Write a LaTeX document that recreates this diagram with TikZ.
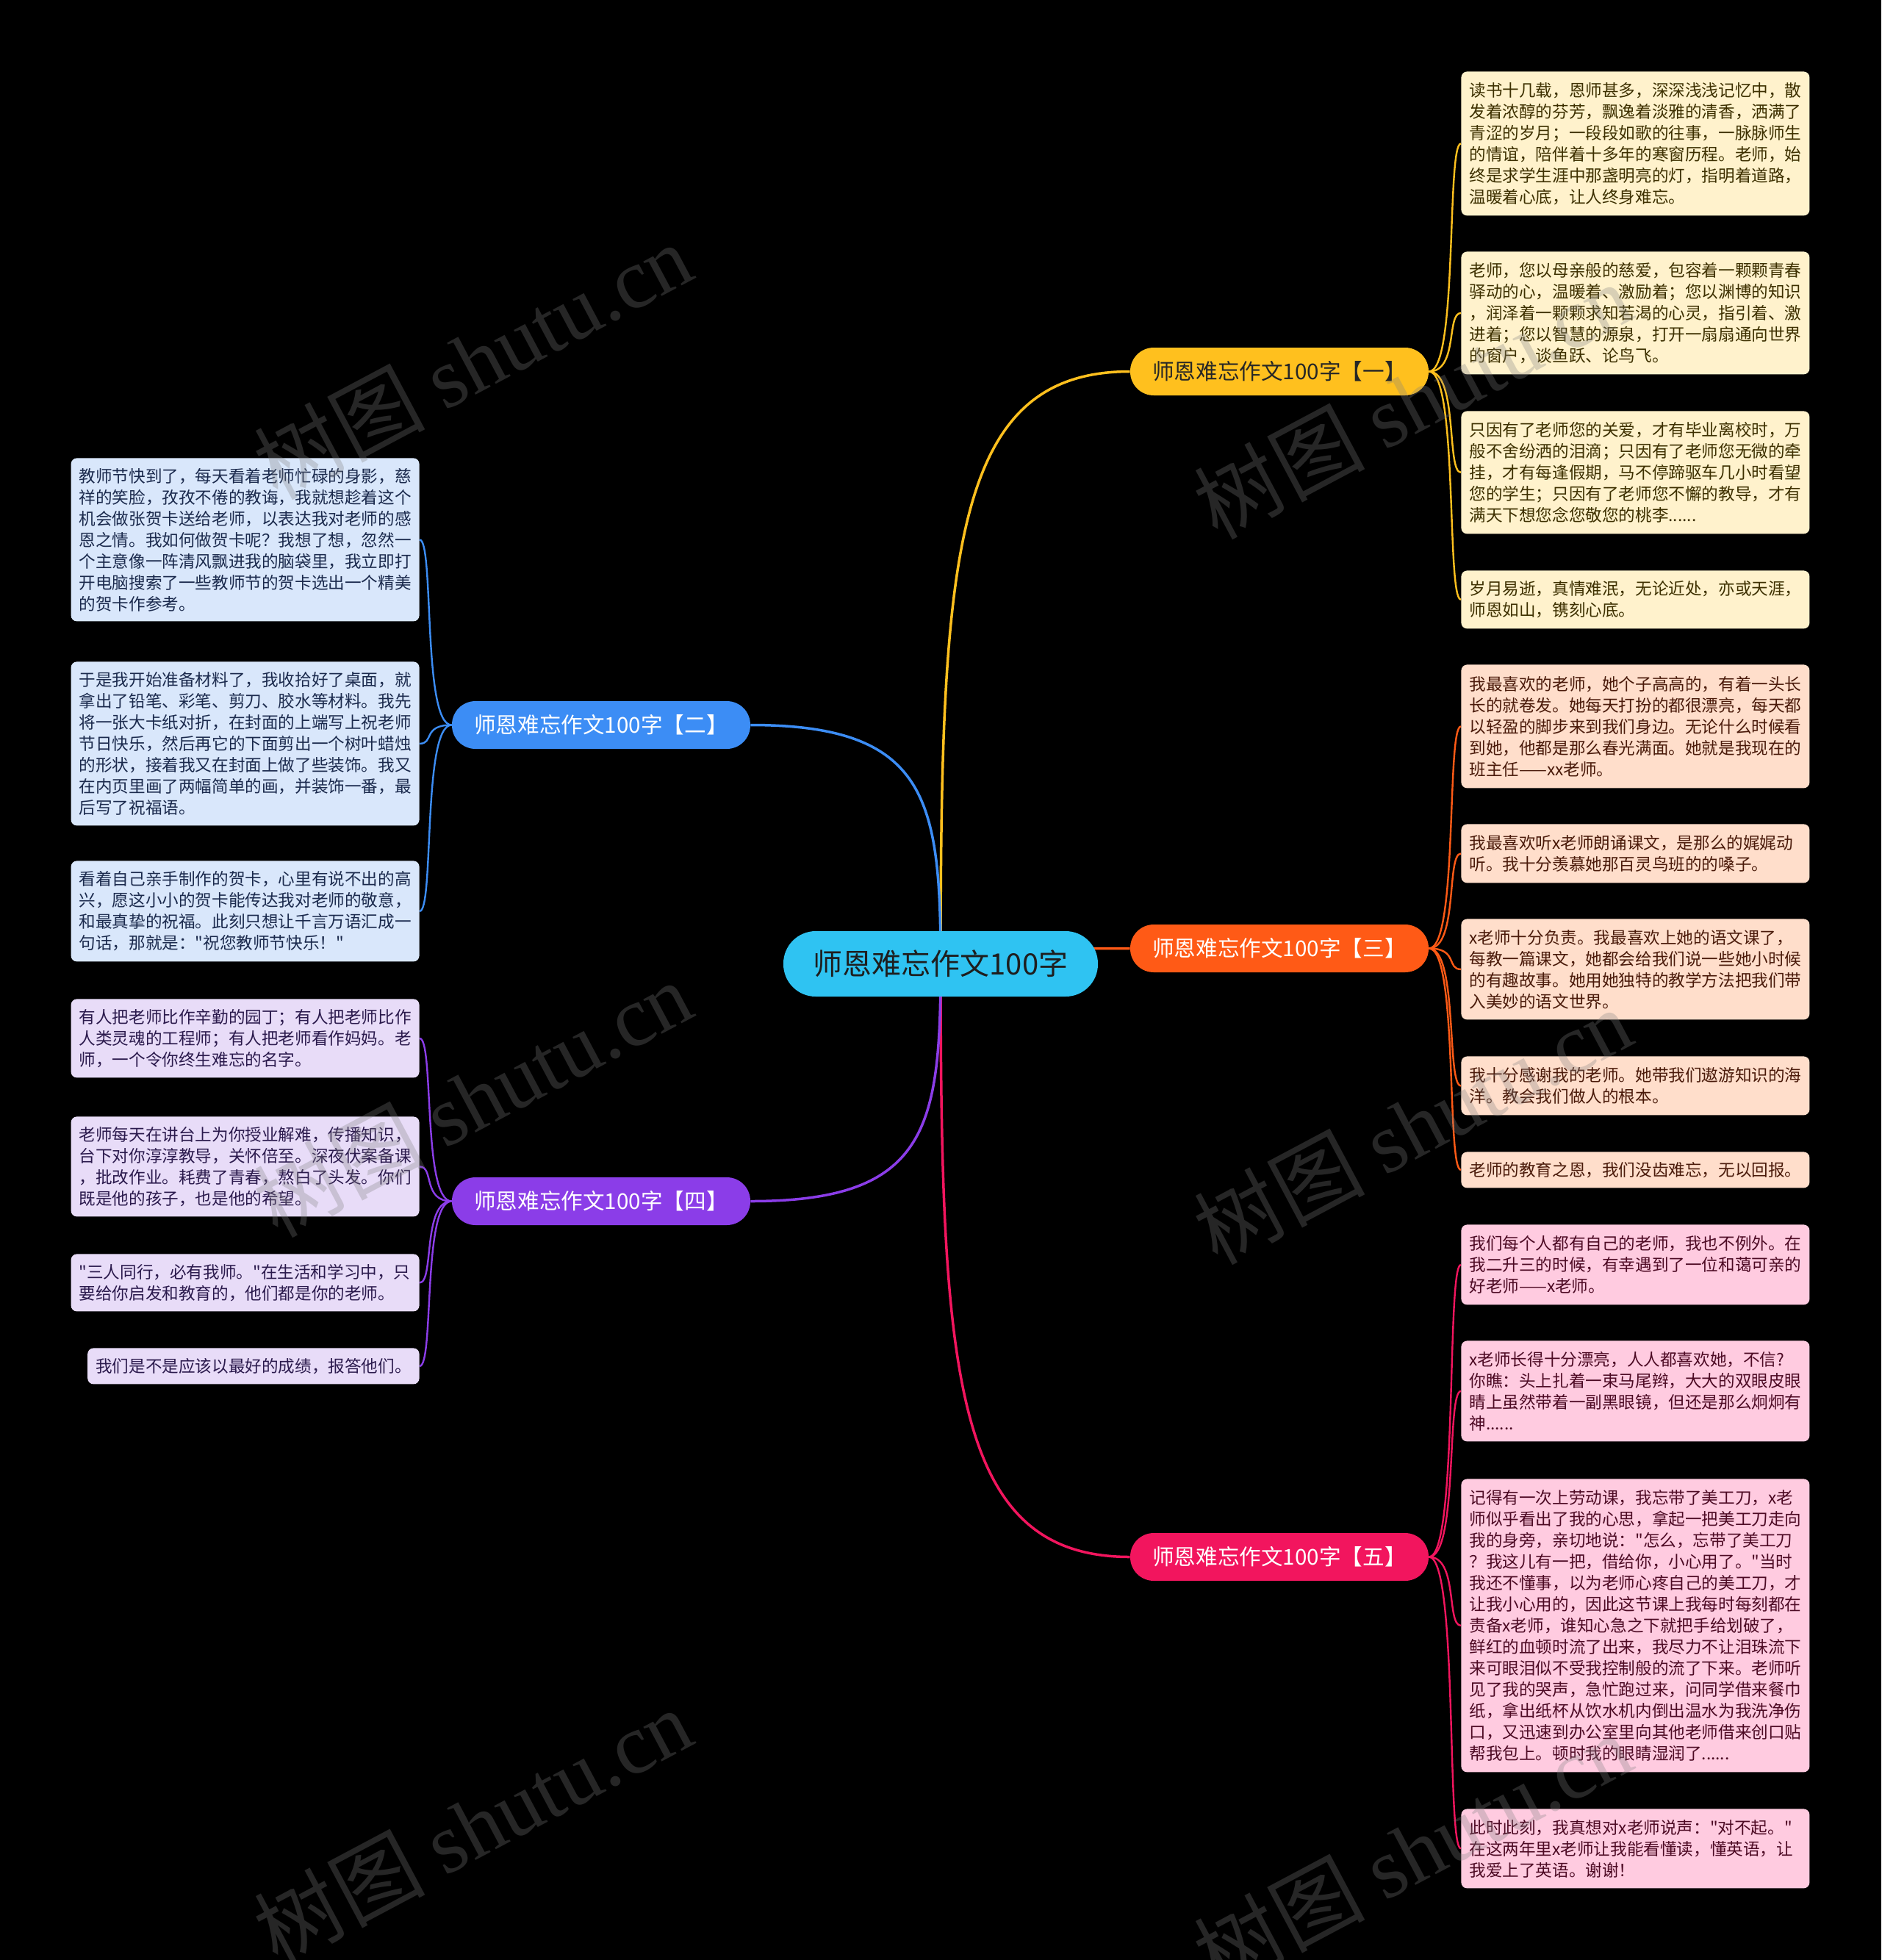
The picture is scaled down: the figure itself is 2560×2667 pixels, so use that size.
\documentclass[tikz,border=0pt]{standalone}
\usepackage{fontspec}
\setmainfont{Noto Sans CJK SC}[Ligatures=TeXOff]
\newfontfamily\wmlatin{Liberation Serif}
\pgfdeclarelayer{bgfill}
\pgfdeclarelayer{lines}
\pgfdeclarelayer{wmark}
\pgfsetlayers{bgfill,lines,main,wmark}
\definecolor{rootfill}{HTML}{2FC3F2}
\definecolor{rootText}{HTML}{1E1E1E}
\definecolor{yA}{HTML}{FFC01E}
\definecolor{yLeaf}{HTML}{FFF2CC}
\definecolor{yText}{HTML}{3D3000}
\definecolor{oA}{HTML}{FF5A16}
\definecolor{oLeaf}{HTML}{FFDECB}
\definecolor{oText}{HTML}{4A1A0A}
\definecolor{pA}{HTML}{F2155E}
\definecolor{pLeaf}{HTML}{FFCBE0}
\definecolor{pText}{HTML}{4D0A24}
\definecolor{bA}{HTML}{3C8DF5}
\definecolor{bLeaf}{HTML}{D9E7FB}
\definecolor{bText}{HTML}{1B2A4D}
\definecolor{vA}{HTML}{8B3DE8}
\definecolor{vLeaf}{HTML}{E8DCF8}
\definecolor{vText}{HTML}{2B1A4D}
\begin{document}
\begin{tikzpicture}[x=0.5pt,y=-0.5pt,
  rootnode/.style={fill=rootfill, text=rootText, rounded corners=22pt, minimum width=214pt, minimum height=44.5pt, inner sep=0pt, font=\fontsize{20}{22}\selectfont},
  branch/.style={rounded corners=16pt, minimum width=203pt, minimum height=32.5pt, inner sep=0pt, font=\fontsize{14.8}{16}\selectfont},
  leaf/.style={rounded corners=4pt, inner xsep=5.5pt, inner ysep=0pt, text width=226pt, align=left, font=\fontsize{11.3}{14.5}\selectfont},
  leafY/.style={leaf, fill=yLeaf, text=yText, anchor=north west},
  leafO/.style={leaf, fill=oLeaf, text=oText, anchor=north west},
  leafP/.style={leaf, fill=pLeaf, text=pText, anchor=north west},
  leafB/.style={leaf, fill=bLeaf, text=bText, anchor=north east},
  leafV/.style={leaf, fill=vLeaf, text=vText, anchor=north east},
  mainlink/.style={line width=1.75pt},
  leaflink/.style={line width=1.2pt},
  wm/.style={text=gray, text opacity=0.3, rotate=28, font=\fontsize{58}{60}\selectfont}
]
\begin{pgfonlayer}{bgfill}
\fill[black] (0,0) rectangle (2560,2667);
\end{pgfonlayer}
\useasboundingbox (0,0) rectangle (2560,2667);

% root and branches
\node[rootnode] (root) at (1280,1311.5) {师恩难忘作文100字};
\node[branch, fill=yA, text=black!85] (b1) at (1741,505.5) {师恩难忘作文100字【一】};
\node[branch, fill=oA, text=white] (b3) at (1741,1290.5) {师恩难忘作文100字【三】};
\node[branch, fill=pA, text=white] (b5) at (1741,2118.5) {师恩难忘作文100字【五】};
\node[branch, fill=bA, text=white] (b2) at (818,986.5) {师恩难忘作文100字【二】};
\node[branch, fill=vA, text=white] (b4) at (818,1634.5) {师恩难忘作文100字【四】};

% leaves of branch 1
\node[leafY, minimum height=98pt] (l11) at (1988,97) {读书十几载，恩师甚多，深深浅浅记忆中，散\\发着浓醇的芬芳，飘逸着淡雅的清香，洒满了\\青涩的岁月；一段段如歌的往事，一脉脉师生\\的情谊，陪伴着十多年的寒窗历程。老师，始\\终是求学生涯中那盏明亮的灯，指明着道路，\\温暖着心底，让人终身难忘。};
\node[leafY, minimum height=83.5pt] (l12) at (1988,342) {老师，您以母亲般的慈爱，包容着一颗颗青春\\驿动的心，温暖着、激励着；您以渊博的知识\\，润泽着一颗颗求知若渴的心灵，指引着、激\\进着；您以智慧的源泉，打开一扇扇通向世界\\的窗户，谈鱼跃、论鸟飞。};
\node[leafY, minimum height=83.5pt] (l13) at (1988,559) {只因有了老师您的关爱，才有毕业离校时，万\\般不舍纷洒的泪滴；只因有了老师您无微的牵\\挂，才有每逢假期，马不停蹄驱车几小时看望\\您的学生；只因有了老师您不懈的教导，才有\\满天下想您念您敬您的桃李......};
\node[leafY, minimum height=39.5pt] (l14) at (1988,776) {岁月易逝，真情难泯，无论近处，亦或天涯，\\师恩如山，镌刻心底。};

% leaves of branch 3
\node[leafO, minimum height=84pt] (l31) at (1988,904) {我最喜欢的老师，她个子高高的，有着一头长\\长的就卷发。她每天打扮的都很漂亮，每天都\\以轻盈的脚步来到我们身边。无论什么时候看\\到她，他都是那么春光满面。她就是我现在的\\班主任——xx老师。};
\node[leafO, minimum height=40pt] (l32) at (1988,1121) {我最喜欢听x老师朗诵课文，是那么的娓娓动\\听。我十分羡慕她那百灵鸟班的的嗓子。};
\node[leafO, minimum height=68.5pt] (l33) at (1988,1250) {x老师十分负责。我最喜欢上她的语文课了，\\每教一篇课文，她都会给我们说一些她小时候\\的有趣故事。她用她独特的教学方法把我们带\\入美妙的语文世界。};
\node[leafO, minimum height=40pt] (l34) at (1988,1437) {我十分感谢我的老师。她带我们遨游知识的海\\洋。教会我们做人的根本。};
\node[leafO, minimum height=24.5pt] (l35) at (1988,1567) {老师的教育之恩，我们没齿难忘，无以回报。};

% leaves of branch 5
\node[leafP, minimum height=54.5pt] (l51) at (1988,1666) {我们每个人都有自己的老师，我也不例外。在\\我二升三的时候，有幸遇到了一位和蔼可亲的\\好老师——x老师。};
\node[leafP, minimum height=68.5pt] (l52) at (1988,1824) {x老师长得十分漂亮，人人都喜欢她，不信?\\你瞧：头上扎着一束马尾辫，大大的双眼皮眼\\睛上虽然带着一副黑眼镜，但还是那么炯炯有\\神......};
\node[leafP, minimum height=199.5pt] (l53) at (1988,2012) {记得有一次上劳动课，我忘带了美工刀，x老\\师似乎看出了我的心思，拿起一把美工刀走向\\我的身旁，亲切地说："怎么，忘带了美工刀\\？我这儿有一把，借给你，小心用了。"当时\\我还不懂事，以为老师心疼自己的美工刀，才\\让我小心用的，因此这节课上我每时每刻都在\\责备x老师，谁知心急之下就把手给划破了，\\鲜红的血顿时流了出来，我尽力不让泪珠流下\\来可眼泪似不受我控制般的流了下来。老师听\\见了我的哭声，急忙跑过来，问同学借来餐巾\\纸，拿出纸杯从饮水机内倒出温水为我洗净伤\\口，又迅速到办公室里向其他老师借来创口贴\\帮我包上。顿时我的眼睛湿润了......};
\node[leafP, minimum height=54pt] (l54) at (1988,2461) {此时此刻，我真想对x老师说声："对不起。"\\在这两年里x老师让我能看懂读，懂英语，让\\我爱上了英语。谢谢！};

% leaves of branch 2
\node[leafB, minimum height=111pt] (l21) at (571,623) {教师节快到了，每天看着老师忙碌的身影，慈\\祥的笑脸，孜孜不倦的教诲，我就想趁着这个\\机会做张贺卡送给老师，以表达我对老师的感\\恩之情。我如何做贺卡呢？我想了想，忽然一\\个主意像一阵清风飘进我的脑袋里，我立即打\\开电脑搜索了一些教师节的贺卡选出一个精美\\的贺卡作参考。};
\node[leafB, minimum height=111.5pt] (l22) at (571,900) {于是我开始准备材料了，我收拾好了桌面，就\\拿出了铅笔、彩笔、剪刀、胶水等材料。我先\\将一张大卡纸对折，在封面的上端写上祝老师\\节日快乐，然后再它的下面剪出一个树叶蜡烛\\的形状，接着我又在封面上做了些装饰。我又\\在内页里画了两幅简单的画，并装饰一番，最\\后写了祝福语。};
\node[leafB, minimum height=68.5pt] (l23) at (571,1171) {看着自己亲手制作的贺卡，心里有说不出的高\\兴，愿这小小的贺卡能传达我对老师的敬意，\\和最真挚的祝福。此刻只想让千言万语汇成一\\句话，那就是："祝您教师节快乐！"};

% leaves of branch 4
\node[leafV, minimum height=53.5pt] (l41) at (571,1359) {有人把老师比作辛勤的园丁；有人把老师比作\\人类灵魂的工程师；有人把老师看作妈妈。老\\师，一个令你终生难忘的名字。};
\node[leafV, minimum height=68pt] (l42) at (571,1519) {老师每天在讲台上为你授业解难，传播知识，\\台下对你淳淳教导，关怀倍至。深夜伏案备课\\，批改作业。耗费了青春，熬白了头发。你们\\既是他的孩子，也是他的希望。};
\node[leafV, minimum height=39pt] (l43) at (571,1706) {"三人同行，必有我师。"在生活和学习中，只\\要给你启发和教育的，他们都是你的老师。};
\node[leafV, text width={}, minimum height=24.5pt] (l44) at (571,1834) {我们是不是应该以最好的成绩，报答他们。};

\begin{pgfonlayer}{lines}
\draw[mainlink, yA] (root.center) .. controls +(0,-560) and +(-240,0) .. (b1.west);
\draw[mainlink, oA] (root.center) .. controls +(0,-15) and +(-240,0) .. (b3.west);
\draw[mainlink, pA] (root.center) .. controls +(0,560) and +(-240,0) .. (b5.west);
\draw[mainlink, bA] (root.center) .. controls +(0,-225) and +(240,0) .. (b2.east);
\draw[mainlink, vA] (root.center) .. controls +(0,225) and +(240,0) .. (b4.east);
\foreach \l in {l11,l12,l13,l14}
  \draw[leaflink, yA] (b1.east) .. controls +(40,0) and +(-20,0) .. (\l.west);
\foreach \l in {l31,l32,l33,l34,l35}
  \draw[leaflink, oA] (b3.east) .. controls +(40,0) and +(-20,0) .. (\l.west);
\foreach \l in {l51,l52,l53,l54}
  \draw[leaflink, pA] (b5.east) .. controls +(40,0) and +(-20,0) .. (\l.west);
\foreach \l in {l21,l22,l23}
  \draw[leaflink, bA] (b2.west) .. controls +(-40,0) and +(20,0) .. (\l.east);
\foreach \l in {l41,l42,l43,l44}
  \draw[leaflink, vA] (b4.west) .. controls +(-40,0) and +(20,0) .. (\l.east);
\end{pgfonlayer}

\begin{pgfonlayer}{wmark}
\node[wm] (wm1) at (643,490) {树图 {\wmlatin shutu.cn}};
\node[wm] (wm2) at (643,1494) {树图 {\wmlatin shutu.cn}};
\node[wm] (wm3) at (643,2484) {树图 {\wmlatin shutu.cn}};
\node[wm] (wm4) at (1922,544) {树图 {\wmlatin shutu.cn}};
\node[wm] (wm5) at (1922,1531) {树图 {\wmlatin shutu.cn}};
\node[wm] (wm6) at (1922,2518) {树图 {\wmlatin shutu.cn}};
\end{pgfonlayer}
\end{tikzpicture}
\end{document}
